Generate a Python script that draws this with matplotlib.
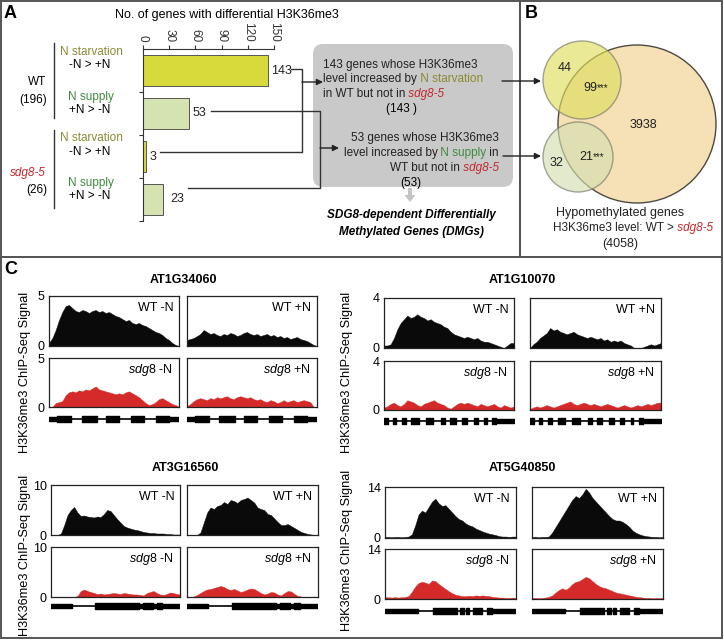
import numpy as np
import matplotlib.pyplot as plt
from matplotlib.patches import Rectangle, Circle, FancyBboxPatch, FancyArrow

plt.rcParams['font.family'] = 'Liberation Sans'
plt.rcParams['mathtext.fontset'] = 'custom'
plt.rcParams['mathtext.rm'] = 'Liberation Sans'
plt.rcParams['mathtext.it'] = 'Liberation Sans:italic'
plt.rcParams['mathtext.bf'] = 'Liberation Sans:bold'

# ---- panel A data ----
bar_groups = ['WT', 'sdg8-5']
group_totals = [196, 26]
bar_conditions = ['N starvation', 'N supply', 'N starvation', 'N supply']
bar_contrasts = ['-N > +N', '+N > -N', '-N > +N', '+N > -N']
bar_values = [143, 53, 3, 23]
dmg_counts = [143, 53]

# ---- panel B data ----
venn_only_small = [44, 32]
venn_overlap = [99, 21]
venn_big_only = 3938
venn_big_total = 4058

# ---- panel C data ----
genes = ['AT1G34060', 'AT1G10070', 'AT3G16560', 'AT5G40850']
gene_ymax = [5, 4, 10, 14]
track_labels = [['WT -N', 'WT +N'], [r'$\it{sdg8}$ -N', r'$\it{sdg8}$ +N']]

at1g34060_wt_minus = [0.3, 0.8, 1.6, 2.6, 3.4, 4.0, 4.1, 3.8, 3.5, 3.4, 3.6, 3.5, 3.3, 3.5, 3.6, 3.4, 3.5, 3.3, 3.4, 3.2,
                      3.0, 2.9, 2.7, 2.5, 2.6, 2.3, 2.2, 2.3, 2.1, 2.0, 1.8, 1.6, 1.4, 1.3, 1.1, 0.8, 0.6, 0.3, 0.1, 0.0]
at1g34060_wt_plus = [0.6, 0.7, 0.8, 1.0, 1.2, 1.6, 1.4, 1.2, 1.3, 1.1, 1.0, 1.2, 1.1, 1.3, 1.2, 1.0, 1.1, 1.3, 1.4, 1.2,
                     1.1, 1.2, 1.0, 1.1, 1.2, 1.0, 1.1, 0.9, 1.0, 0.8, 0.9, 0.7, 0.8, 0.9, 0.7, 0.6, 0.5, 0.3, 0.1, 0.0]
at1g34060_sdg_minus = [0.0, 0.0, 0.4, 0.5, 0.6, 1.2, 1.5, 1.6, 1.5, 1.7, 1.6, 1.8, 1.7, 1.9, 2.1, 1.8, 1.7, 1.6, 1.5, 1.4,
                       1.3, 1.4, 1.3, 1.5, 1.6, 1.4, 1.2, 1.0, 0.7, 0.4, 0.2, 0.3, 0.5, 0.8, 0.9, 0.7, 0.5, 0.3, 0.2, 0.0]
at1g34060_sdg_plus = [0.1, 0.3, 0.6, 0.8, 0.9, 0.8, 0.7, 0.9, 0.8, 1.0, 0.9, 1.0, 1.1, 0.9, 0.8, 1.0, 1.1, 1.0, 0.9, 1.0,
                      0.8, 0.7, 0.8, 0.6, 0.5, 0.7, 0.6, 0.4, 0.5, 0.7, 0.5, 0.6, 0.7, 0.5, 0.6, 0.7, 0.6, 0.5, 0.0, 0.0]

at1g10070_wt_minus = [0.2, 0.2, 0.3, 0.8, 1.5, 2.0, 2.3, 2.6, 2.4, 2.5, 2.7, 2.5, 2.4, 2.2, 2.3, 2.1, 2.0, 1.9, 1.7, 1.6,
                      1.3, 1.1, 1.0, 0.9, 0.8, 0.9, 0.8, 0.7, 0.8, 0.6, 0.5, 0.5, 0.4, 0.3, 0.2, 0.1, 0.0, 0.2, 0.4, 0.4]
at1g10070_wt_plus = [0.0, 0.3, 0.5, 0.8, 1.0, 1.2, 1.6, 1.4, 1.5, 1.3, 1.2, 1.1, 1.2, 1.3, 1.1, 1.0, 0.9, 0.8, 0.9, 0.8,
                     0.7, 0.8, 0.6, 0.7, 0.5, 0.6, 0.5, 0.6, 0.4, 0.3, 0.2, 0.0, 0.0, 0.0, 0.1, 0.2, 0.3, 0.2, 0.3, 0.4]
at1g10070_sdg_minus = [0.2, 0.3, 0.5, 0.6, 0.4, 0.3, 0.5, 0.8, 0.7, 0.6, 0.4, 0.3, 0.5, 0.6, 0.7, 0.8, 0.6, 0.5, 0.4, 0.2,
                       0.1, 0.3, 0.5, 0.6, 0.5, 0.6, 0.5, 0.4, 0.3, 0.5, 0.4, 0.3, 0.4, 0.5, 0.3, 0.2, 0.4, 0.3, 0.2, 0.3]
at1g10070_sdg_plus = [0.1, 0.2, 0.3, 0.2, 0.3, 0.4, 0.3, 0.2, 0.3, 0.4, 0.5, 0.6, 0.7, 0.5, 0.4, 0.5, 0.6, 0.5, 0.4, 0.5,
                      0.4, 0.3, 0.4, 0.5, 0.4, 0.3, 0.2, 0.3, 0.4, 0.3, 0.2, 0.3, 0.4, 0.3, 0.4, 0.5, 0.4, 0.5, 0.6, 0.6]

at3g16560_wt_minus = [0.0, 0.0, 0.0, 0.3, 2.0, 4.0, 5.0, 5.6, 4.5, 3.8, 3.9, 3.7, 3.6, 3.5, 3.7, 3.6, 4.2, 5.0, 4.8, 4.0,
                      3.2, 2.5, 1.8, 1.5, 1.3, 1.1, 1.0, 0.8, 0.6, 0.5, 0.4, 0.4, 0.3, 0.3, 0.3, 0.2, 0.2, 0.1, 0.1, 0.1]
at3g16560_wt_plus = [0.0, 0.0, 0.0, 0.0, 0.5, 2.5, 4.5, 5.5, 5.2, 5.8, 6.0, 6.6, 6.2, 7.0, 6.8, 6.4, 7.0, 7.2, 7.5, 7.0,
                     6.5, 5.5, 5.2, 5.0, 4.2, 4.0, 3.3, 2.6, 2.0, 2.0, 2.2, 1.8, 1.4, 1.0, 0.6, 0.4, 0.2, 0.1, 0.0, 0.0]
at3g16560_sdg_minus = [0.0, 0.0, 0.0, 0.0, 0.0, 0.0, 0.0, 0.0, 0.2, 1.2, 1.5, 1.2, 1.0, 0.8, 0.6, 0.7, 0.5, 0.6, 0.7, 0.8,
                       0.7, 0.6, 0.8, 0.7, 0.6, 0.5, 0.5, 0.4, 0.3, 0.8, 1.0, 1.2, 0.8, 0.5, 0.4, 0.6, 0.9, 0.8, 0.6, 0.5]
at3g16560_sdg_plus = [0.0, 0.0, 0.1, 0.4, 0.8, 1.2, 1.5, 1.6, 1.8, 2.0, 2.2, 2.0, 1.6, 1.4, 1.6, 1.3, 1.0, 1.2, 1.5, 1.7,
                      1.6, 1.2, 0.8, 0.5, 0.7, 1.0, 0.9, 0.5, 0.3, 0.8, 1.2, 1.1, 0.6, 0.2, 0.1, 0.0, 0.0, 0.0, 0.1, 0.0]

at5g40850_wt_minus = [0.3, 0.3, 0.2, 0.3, 0.3, 0.2, 0.3, 0.4, 1.0, 3.5, 6.5, 7.5, 7.0, 8.5, 10.0, 10.8, 9.5, 8.8, 9.0, 8.0,
                      7.0, 6.0, 5.2, 4.8, 4.0, 3.5, 3.2, 2.6, 2.2, 1.8, 1.5, 1.2, 1.0, 0.8, 0.5, 0.4, 0.4, 0.3, 0.4, 0.4]
at5g40850_wt_plus = [0.3, 0.3, 0.2, 0.3, 0.3, 0.4, 1.5, 3.0, 4.5, 6.0, 7.5, 9.0, 10.5, 11.5, 11.0, 12.0, 13.5, 12.5, 11.0, 10.0,
                     9.0, 8.0, 7.0, 6.0, 5.2, 4.8, 4.8, 4.4, 3.8, 3.0, 2.0, 1.4, 1.0, 0.7, 0.5, 0.4, 0.3, 0.3, 0.2, 0.3]
at5g40850_sdg_minus = [0.5, 0.5, 0.4, 0.5, 0.4, 0.5, 0.6, 0.8, 2.0, 3.5, 4.5, 4.8, 4.6, 4.2, 5.2, 5.0, 4.2, 3.5, 2.8, 2.2,
                       1.6, 1.2, 1.0, 0.8, 0.8, 0.9, 0.8, 1.0, 0.9, 1.0, 0.9, 0.8, 0.6, 0.5, 0.4, 0.4, 0.3, 0.3, 0.4, 0.3]
at5g40850_sdg_plus = [0.3, 0.3, 0.2, 0.3, 0.4, 0.6, 1.0, 1.8, 2.5, 3.0, 2.6, 3.2, 4.2, 4.8, 5.0, 5.6, 6.2, 5.8, 5.0, 4.2,
                      3.6, 3.2, 3.0, 2.6, 2.2, 1.8, 1.6, 1.4, 1.2, 1.0, 0.8, 0.6, 0.5, 0.4, 0.3, 0.3, 0.2, 0.3, 0.2, 0.3]

# gene models (fraction of locus): UTR and CDS blocks
at1g34060_utr = [(0.0, 0.07), (0.92, 1.0)]
at1g34060_cds = [(0.06, 0.17), (0.25, 0.37), (0.44, 0.54), (0.63, 0.73), (0.82, 0.92)]
at1g10070_utr = [(0.86, 1.0)]
at1g10070_cds = [(0.0, 0.03), (0.07, 0.09), (0.14, 0.17), (0.21, 0.27), (0.32, 0.38), (0.44, 0.47),
                 (0.51, 0.55), (0.60, 0.64), (0.69, 0.72), (0.77, 0.79), (0.83, 0.86)]
at3g16560_utr = [(0.0, 0.16), (0.68, 0.71), (0.79, 0.82), (0.86, 1.0)]
at3g16560_cds = [(0.34, 0.68), (0.71, 0.79), (0.82, 0.86)]
at5g40850_utr = [(0.0, 0.25), (0.82, 1.0)]
at5g40850_cds = [(0.37, 0.55), (0.57, 0.60), (0.62, 0.64), (0.67, 0.74), (0.78, 0.82)]

signals = {
    'AT1G34060': [[at1g34060_wt_minus, at1g34060_wt_plus], [at1g34060_sdg_minus, at1g34060_sdg_plus]],
    'AT1G10070': [[at1g10070_wt_minus, at1g10070_wt_plus], [at1g10070_sdg_minus, at1g10070_sdg_plus]],
    'AT3G16560': [[at3g16560_wt_minus, at3g16560_wt_plus], [at3g16560_sdg_minus, at3g16560_sdg_plus]],
    'AT5G40850': [[at5g40850_wt_minus, at5g40850_wt_plus], [at5g40850_sdg_minus, at5g40850_sdg_plus]],
}
models = {
    'AT1G34060': (at1g34060_utr, at1g34060_cds),
    'AT1G10070': (at1g10070_utr, at1g10070_cds),
    'AT3G16560': (at3g16560_utr, at3g16560_cds),
    'AT5G40850': (at5g40850_utr, at5g40850_cds),
}

OLIVE = '#8a8a35'
GREEN = '#3f8c3f'
RED = '#c1272d'
TRACK_RED = '#d42a2a'
FS = 8.5

W, H = 724, 640
fig = plt.figure(figsize=(W / 100, H / 100), dpi=100)


def px_axes(x0, y0, x1, y1):
    return fig.add_axes([x0 / W, 1 - y1 / H, (x1 - x0) / W, (y1 - y0) / H])


# ---------------- panel A bar chart ----------------
axb = px_axes(143, 49, 274, 221)
ypos = np.arange(len(bar_values))
bar_colors = ['#d8d93a', '#d5e3b1', '#d8d93a', '#d5e3b1']
axb.barh(ypos, bar_values, height=0.72, color=bar_colors, edgecolor='#555555', linewidth=0.7)
axb.set_xlim(0, 150)
axb.set_ylim(3.5, -0.5)
axb.xaxis.tick_top()
axb.set_xticks(np.arange(0, 151, 30))
axb.set_xticklabels([str(v) for v in range(0, 151, 30)], rotation=-90, fontsize=FS)
axb.set_yticks([0.5, 1.5, 2.5, 3.5])
axb.set_yticklabels([])
axb.tick_params(length=3, width=0.8, colors='#333333', pad=2)
axb.spines['right'].set_visible(False)
axb.spines['bottom'].set_visible(False)
for s in ['top', 'left']:
    axb.spines[s].set_color('#333333')
    axb.spines[s].set_linewidth(0.8)
axb.patch.set_alpha(0)
for i, v in enumerate(bar_values):
    axb.annotate(str(v), (v, i), xytext=(2.5 if v != 23 else 5, 0), textcoords='offset points',
                 ha='left', va='center', fontsize=9, color='#222222')

# ---------------- panel C tracks ----------------
group_layout = [
    # title center, columns x, rows y, gene y, ylabel pos
    ((183, 280), [(49, 179), (187, 317)], [(296, 346), (358, 407)], 419, (25, 372)),
    ((522, 280), [(384, 514), (530, 661)], [(298, 348), (361, 410)], 421, (347, 372)),
    ((185, 468), [(51, 180), (187, 318)], [(485, 535), (547, 597)], 606, (25, 555)),
    ((522, 468), [(385, 516), (532, 663)], [(487, 538), (549, 599)], 611, (347, 550)),
]

for gene, ymax, (tpos, cols, rows, gy, ylpos) in zip(genes, gene_ymax, group_layout):
    for r, (ry0, ry1) in enumerate(rows):
        for c, (cx0, cx1) in enumerate(cols):
            ax = px_axes(cx0, ry0, cx1, ry1)
            vals = signals[gene][r][c]
            xs = np.linspace(0, 1, len(vals))
            ax.fill_between(xs, vals, color='#0a0a0a' if r == 0 else TRACK_RED, linewidth=0.3,
                            edgecolor='#0a0a0a' if r == 0 else TRACK_RED)
            ax.set_xlim(0, 1)
            ax.set_ylim(0, ymax)
            ax.set_xticks([])
            if c == 0:
                ax.set_yticks([0, ymax])
                ax.set_yticklabels(['0', str(ymax)], fontsize=9)
                ax.tick_params(axis='y', length=0, pad=3)
            else:
                ax.set_yticks([])
            for s in ax.spines.values():
                s.set_linewidth(0.9)
                s.set_color('#222222')
            ax.text(0.955, 0.76, track_labels[r][c], transform=ax.transAxes,
                    ha='right', va='center', fontsize=9)
    utr, cds = models[gene]
    for cx0, cx1 in cols:
        gax = px_axes(cx0, gy - 6, cx1, gy + 6)
        gax.set_xlim(0, 1)
        gax.set_ylim(-1, 1)
        gax.axis('off')
        gax.axhline(0, color='black', lw=1.2)
        gax.broken_barh([(a, b - a) for a, b in utr], (-0.35, 0.7), color='black')
        gax.broken_barh([(a, b - a) for a, b in cds], (-0.55, 1.1), color='black')

# ---------------- overlay (text, connectors, Venn, borders) ----------------
ov = fig.add_axes([0, 0, 1, 1])
ov.set_xlim(0, W)
ov.set_ylim(H, 0)
ov.axis('off')
ov.patch.set_alpha(0)

for tpos, g in zip([l[0] for l in group_layout], genes):
    ov.text(tpos[0], tpos[1], g, ha='center', va='center', fontsize=9, fontweight='bold')
for l in group_layout:
    ov.text(l[4][0], l[4][1], 'H3K36me3 ChIP-Seq Signal', rotation=90, ha='center', va='center', fontsize=9.2)

# panel borders
for (x0, y0, x1, y1) in [(1, 1, 520, 257), (520, 1, 722, 257), (1, 257, 722, 638)]:
    ov.add_patch(Rectangle((x0, y0), x1 - x0, y1 - y0, fill=False, edgecolor='#555555', lw=1.4, clip_on=False))

ov.text(4, 14, 'A', fontsize=13, fontweight='bold', va='center')
ov.text(525, 14, 'B', fontsize=13, fontweight='bold', va='center')
ov.text(4, 269, 'C', fontsize=13, fontweight='bold', va='center')

ov.text(115, 15, 'No. of genes with differential H3K36me3', fontsize=9, va='center')

# group labels
ov.plot([54, 54], [43, 118], color='#333333', lw=1)
ov.plot([54, 54], [130, 208], color='#333333', lw=1)
ov.text(46, 82, bar_groups[0], ha='right', va='center', fontsize=FS)
ov.text(47, 100, f'({group_totals[0]})', ha='right', va='center', fontsize=FS)
ov.text(46, 173, bar_groups[1], ha='right', va='center', fontsize=FS, color=RED, style='italic')
ov.text(47, 190, f'({group_totals[1]})', ha='right', va='center', fontsize=FS)
cond_y = [(52, 65), (97, 110), (138, 152), (183, 196)]
for (y1, y2), cond, con in zip(cond_y, bar_conditions, bar_contrasts):
    ov.text(91, y1, cond, ha='center', va='center', fontsize=FS,
            color=OLIVE if 'starvation' in cond else GREEN)
    ov.text(90, y2, con, ha='center', va='center', fontsize=FS)

# connectors
lc = dict(color='#333333', lw=1)
ov.plot([291, 302, 302, 160], [69, 69, 152, 152], **lc)
ov.plot([211, 320, 320, 188], [111, 111, 188, 188], **lc)
ak = dict(arrowstyle='-|>', color='#222222', lw=1, mutation_scale=9, shrinkA=0, shrinkB=0)
ov.annotate('', xy=(323, 82), xytext=(302, 82), arrowprops=ak)
ov.annotate('', xy=(339, 148), xytext=(320, 148), arrowprops=ak)

# gray box
ov.add_patch(FancyBboxPatch((323, 54), 180, 123, boxstyle='round,pad=10,rounding_size=10',
                            facecolor='#c9c9c9', edgecolor='none'))


def seq_text(x, y, pieces, ha='left'):
    kw = dict(fontsize=FS, color='#222222')
    if ha == 'left':
        s, p = pieces[0]
        t = ov.text(x, y, s, ha='left', va='center', **{**kw, **p})
        for s, p in pieces[1:]:
            t = ov.annotate(s, xy=(1, 0), xycoords=t, ha='left', va='bottom', **{**kw, **p})
    else:
        s, p = pieces[-1]
        t = ov.text(x, y, s, ha='right', va='center', **{**kw, **p})
        for s, p in reversed(pieces[:-1]):
            t = ov.annotate(s, xy=(0, 0), xycoords=t, ha='right', va='bottom', **{**kw, **p})


red_it = dict(color=RED, style='italic')
seq_text(323, 65, [(f'{dmg_counts[0]} genes whose H3K36me3', {})])
seq_text(323, 79, [('level increased by', {}), (' N starvation', dict(color=OLIVE))])
seq_text(323, 94, [('in WT but not in', {}), (' sdg8-5', red_it)])
ov.text(402, 109, f'({dmg_counts[0]} )', ha='center', va='center', fontsize=FS)
seq_text(499, 138, [(f'{dmg_counts[1]} genes whose H3K36me3', {})], ha='right')
seq_text(499, 153, [('level increased by', {}), (' N supply', dict(color=GREEN)), (' in', {})], ha='right')
seq_text(499, 168, [('WT but not in', {}), (' sdg8-5', red_it)], ha='right')
ov.text(411, 183, f'({dmg_counts[1]})', ha='center', va='center', fontsize=FS)

ov.add_patch(FancyArrow(410, 188, 0, 7, width=4, head_width=11, head_length=7,
                        length_includes_head=False, color='#c4c4c4', lw=0))
ov.text(411, 215, 'SDG8-dependent Differentially', ha='center', va='center', fontsize=FS,
        fontweight='bold', style='italic')
ov.text(411, 232, 'Methylated Genes (DMGs)', ha='center', va='center', fontsize=FS,
        fontweight='bold', style='italic')

ov.annotate('', xy=(541, 81), xytext=(502, 81), arrowprops=ak)
ov.annotate('', xy=(541, 156), xytext=(503, 156), arrowprops=ak)

# Venn
ov.add_patch(Circle((637, 124), 79, facecolor='#f6e0b5', edgecolor='#4d4a42', lw=1))
ov.add_patch(Circle((582, 80), 39, facecolor='#dede5e', alpha=0.65, edgecolor='#77776a', lw=1))
ov.add_patch(Circle((578, 157), 35, facecolor='#d3dfb0', alpha=0.65, edgecolor='#77776a', lw=1))
vk = dict(ha='center', va='center', fontsize=9, color='#222222')
ov.text(565, 68, str(venn_only_small[0]), **vk)
ov.text(643, 125, str(venn_big_only), **vk)
ov.text(557, 163, str(venn_only_small[1]), **vk)
for (vx, vy), n in zip([(590, 88), (586, 157)], venn_overlap):
    t = ov.text(vx, vy, str(n), **vk)
    ov.annotate('***', xy=(1, 0.95), xycoords=t, ha='left', va='top', fontsize=7, color='#222222')
ov.text(620, 213, 'Hypomethylated genes', **vk)
seq_text(553, 228, [('H3K36me3 level: WT >', {}), (' sdg8-5', red_it)], ha='left')
ov.text(620, 244, f'({venn_big_total})', **vk)

plt.savefig('out.png', dpi=100)
